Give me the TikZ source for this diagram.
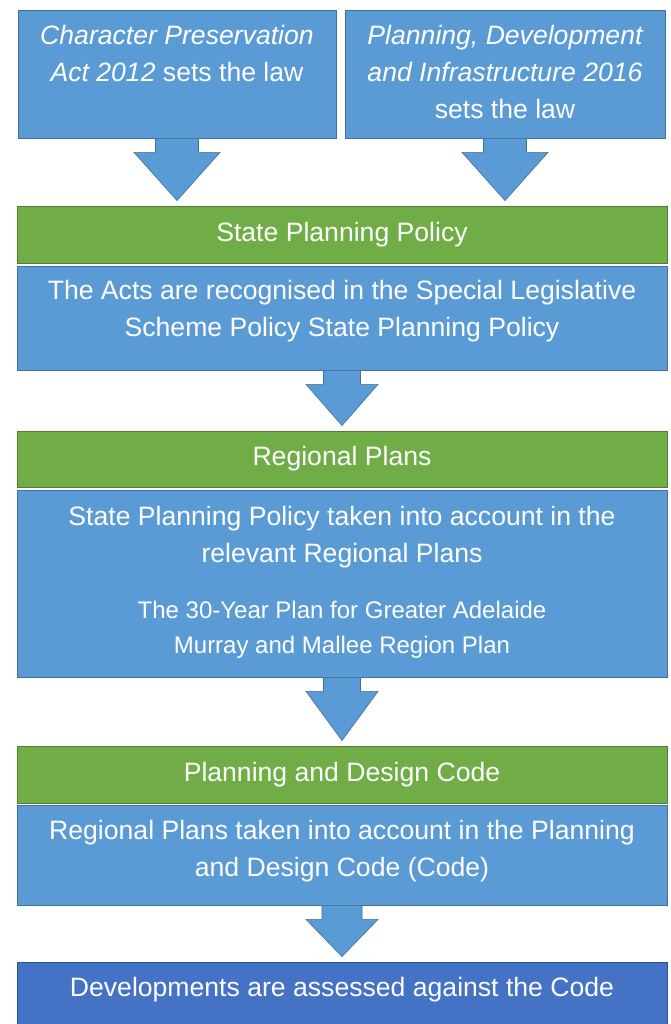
\documentclass[tikz,border=0pt]{standalone}
\usepackage{fontspec}
\setmainfont{Liberation Sans}
\usetikzlibrary{calc}
\definecolor{boxblue}{HTML}{5B9BD5}
\definecolor{boxblueline}{HTML}{41719C}
\definecolor{boxgreen}{HTML}{70AD47}
\definecolor{boxgreenline}{HTML}{507E32}
\definecolor{boxdark}{HTML}{4472C4}
\definecolor{boxdarkline}{HTML}{2F528F}

\begin{document}
\begin{tikzpicture}[x=1pt,y=-1pt]
      \tikzstyle{bluebox}=[draw=boxblueline, fill=boxblue, line width=0.8pt, inner sep=0pt]
      \tikzstyle{greenbox}=[draw=boxgreenline, fill=boxgreen, line width=0.8pt, minimum width=650pt, minimum height=57pt, text=white, font=\fontsize{26.6}{37}\selectfont]
      \tikzstyle{darkbox}=[draw=boxdarkline, fill=boxdark, line width=0.8pt, inner sep=0pt]
      \tikzstyle{texte}=[anchor=north, inner sep=0pt, align=center, text=white, font=\fontsize{26.6}{37}\selectfont]
      \tikzstyle{bigarrow}=[draw=boxblueline, fill=boxblue, line width=0.6pt]

      \useasboundingbox (0,0) rectangle (670,1024);

      \node[bluebox, minimum width=318pt, minimum height=128pt] (ActA) at (177,74) {};
      \node[bluebox, minimum width=320pt, minimum height=128pt] (ActB) at (505,74) {};
      \node[texte] (ActAtxt) at ([yshift=-15pt]ActA.north) {{\itshape Character Preservation}\\{\itshape Act 2012} sets the law};
      \node[texte] (ActBtxt) at ([yshift=-15pt]ActB.north) {{\itshape Planning, Development}\\{\itshape and Infrastructure 2016}\\sets the law};

      \node[greenbox] (SPP) at (342,234.5) {State Planning Policy};
      \node[bluebox, minimum width=650pt, minimum height=104pt] (SPPdesc) at (342,318) {};
      \node[texte] (SPPtxt) at ([yshift=-14pt]SPPdesc.north) {The Acts are recognised in the Special Legislative\\Scheme Policy State Planning Policy};

      \node[greenbox, minimum height=56pt] (RP) at (342,459) {Regional Plans};
      \node[bluebox, minimum width=650pt, minimum height=187pt] (RPdesc) at (342,583.5) {};
      \node[texte] (RPtxt) at ([yshift=-16pt]RPdesc.north) {State Planning Policy taken into account in the\\relevant Regional Plans};
      \node[texte, font=\fontsize{24}{35}\selectfont] (RPlist) at ([yshift=-111pt]RPdesc.north) {The 30-Year Plan for Greater Adelaide\\Murray and Mallee Region Plan};

      \node[greenbox] (PDC) at (342,774.5) {Planning and Design Code};
      \node[bluebox, minimum width=650pt, minimum height=100pt] (PDCdesc) at (342,855) {};
      \node[texte] (PDCtxt) at ([yshift=-15pt]PDCdesc.north) {Regional Plans taken into account in the Planning\\and Design Code (Code)};

      \node[darkbox, minimum width=650pt, minimum height=100pt] (Dev) at (342,1012) {};
      \node[texte] (Devtxt) at ([yshift=-15pt]Dev.north) {Developments are assessed against the Code};

      \foreach \a/\b/\s/\h in {ActA/SPP/21.5/43, ActB/SPP/21.5/43, SPPdesc/RP/18.5/36, RPdesc/PDC/18.5/36, PDCdesc/Dev/20/36}
        \draw[bigarrow] let \p1=(\a.south), \p2=(\b.north) in
          ({\x1-\s*1pt},\y1) -- ({\x1+\s*1pt},\y1) -- ({\x1+\s*1pt},{\y1-14pt}) -- ({\x1+\h*1pt},{\y1-14pt})
          -- (\x1,{\y2+5pt}) -- ({\x1-\h*1pt},{\y1-14pt}) -- ({\x1-\s*1pt},{\y1-14pt}) -- cycle;

    \end{tikzpicture}
\end{document}
